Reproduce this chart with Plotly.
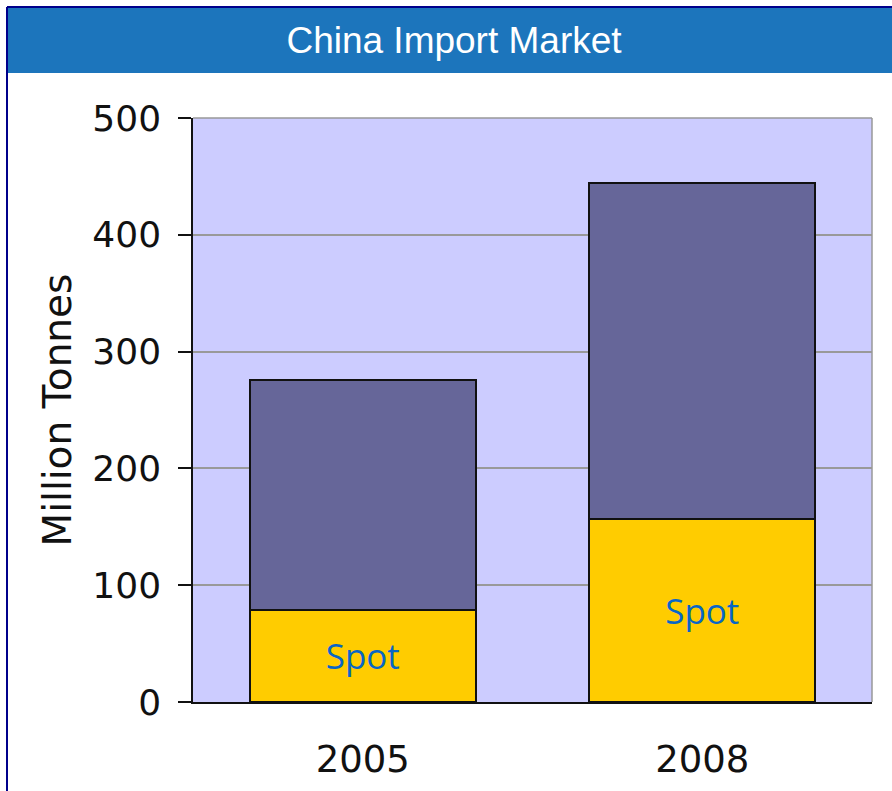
import plotly.graph_objects as go

# Data
years = ["2005", "2008"]
spot = [79, 157]
contract = [197, 287]
y_ticks = [0, 100, 200, 300, 400, 500]

fig = go.Figure()
fig.add_trace(go.Bar(
    x=years, y=spot, name="Spot",
    marker=dict(color="#ffcc00", line=dict(color="#111111", width=2)),
    text=["Spot"] * len(years), textposition="inside", insidetextanchor="middle",
    textfont=dict(family="Open Sans", size=35, color="#0866c6"),
    textangle=0, hoverinfo="skip",
))
fig.add_trace(go.Bar(
    x=years, y=contract, name="Contract",
    marker=dict(color="#666699", line=dict(color="#111111", width=2)),
    hoverinfo="skip",
))

W, H = 892, 791
L, R, T, B = 193, 20, 118, 88.5
pw, ph = W - L - R, H - T - B

def px_x(px):
    return (px - L) / pw

def px_y(py):
    return (H - B - py) / ph

shapes = [
    # title bar
    dict(type="rect", xref="paper", yref="paper",
         x0=px_x(8), x1=px_x(W + 5), y0=px_y(73), y1=px_y(8),
         fillcolor="#1c75bc", line=dict(width=0), layer="above"),
    # outer navy border (left and top)
    dict(type="line", xref="paper", yref="paper",
         x0=px_x(7), x1=px_x(7), y0=px_y(7), y1=px_y(H + 5),
         line=dict(color="#00008b", width=2), layer="above"),
    dict(type="line", xref="paper", yref="paper",
         x0=px_x(7), x1=px_x(W + 5), y0=px_y(7), y1=px_y(7),
         line=dict(color="#00008b", width=2), layer="above"),
    # plot frame top and right (gray)
    dict(type="line", xref="x domain", yref="y domain",
         x0=0, x1=1, y0=1, y1=1, line=dict(color="#999999", width=1.5), layer="above"),
    dict(type="line", xref="x domain", yref="y domain",
         x0=1, x1=1, y0=0, y1=1, line=dict(color="#999999", width=1.5), layer="above"),
]

fig.update_layout(
    width=W, height=H,
    margin=dict(l=L, r=R, t=T, b=B, pad=0, autoexpand=False),
    paper_bgcolor="white", plot_bgcolor="#ccccff",
    barmode="stack", bargap=0.334, showlegend=False,
    shapes=shapes,
    title=dict(text="China Import Market", x=454 / W, xanchor="center",
               y=1 - 40.5 / H, yanchor="middle", yref="container",
               font=dict(family="Liberation Sans", size=37, color="white")),
)
fig.update_xaxes(
    type="category", showline=True, linecolor="#111111", linewidth=1.5,
    ticks="", showgrid=False, automargin=False,
    tickfont=dict(family="DejaVu Sans", size=37, color="#111111"),
    ticklabelstandoff=24,
)
fig.update_yaxes(
    range=[0, 500], tickvals=y_ticks, showline=True, linecolor="#111111", linewidth=1.5,
    ticks="outside", ticklen=13, tickwidth=1.5, tickcolor="#111111",
    showgrid=True, gridcolor="#999999", gridwidth=1.5, zeroline=False, automargin=False,
    tickfont=dict(family="DejaVu Sans", size=36, color="#111111"),
    ticklabelstandoff=10,
    title=dict(text="Million Tonnes", font=dict(family="DejaVu Sans", size=39, color="#111111"),
               standoff=9),
)

fig.write_html("out.html", config={"displayModeBar": False},
               post_script="document.body.style.margin='0';document.body.style.overflow='hidden';")
